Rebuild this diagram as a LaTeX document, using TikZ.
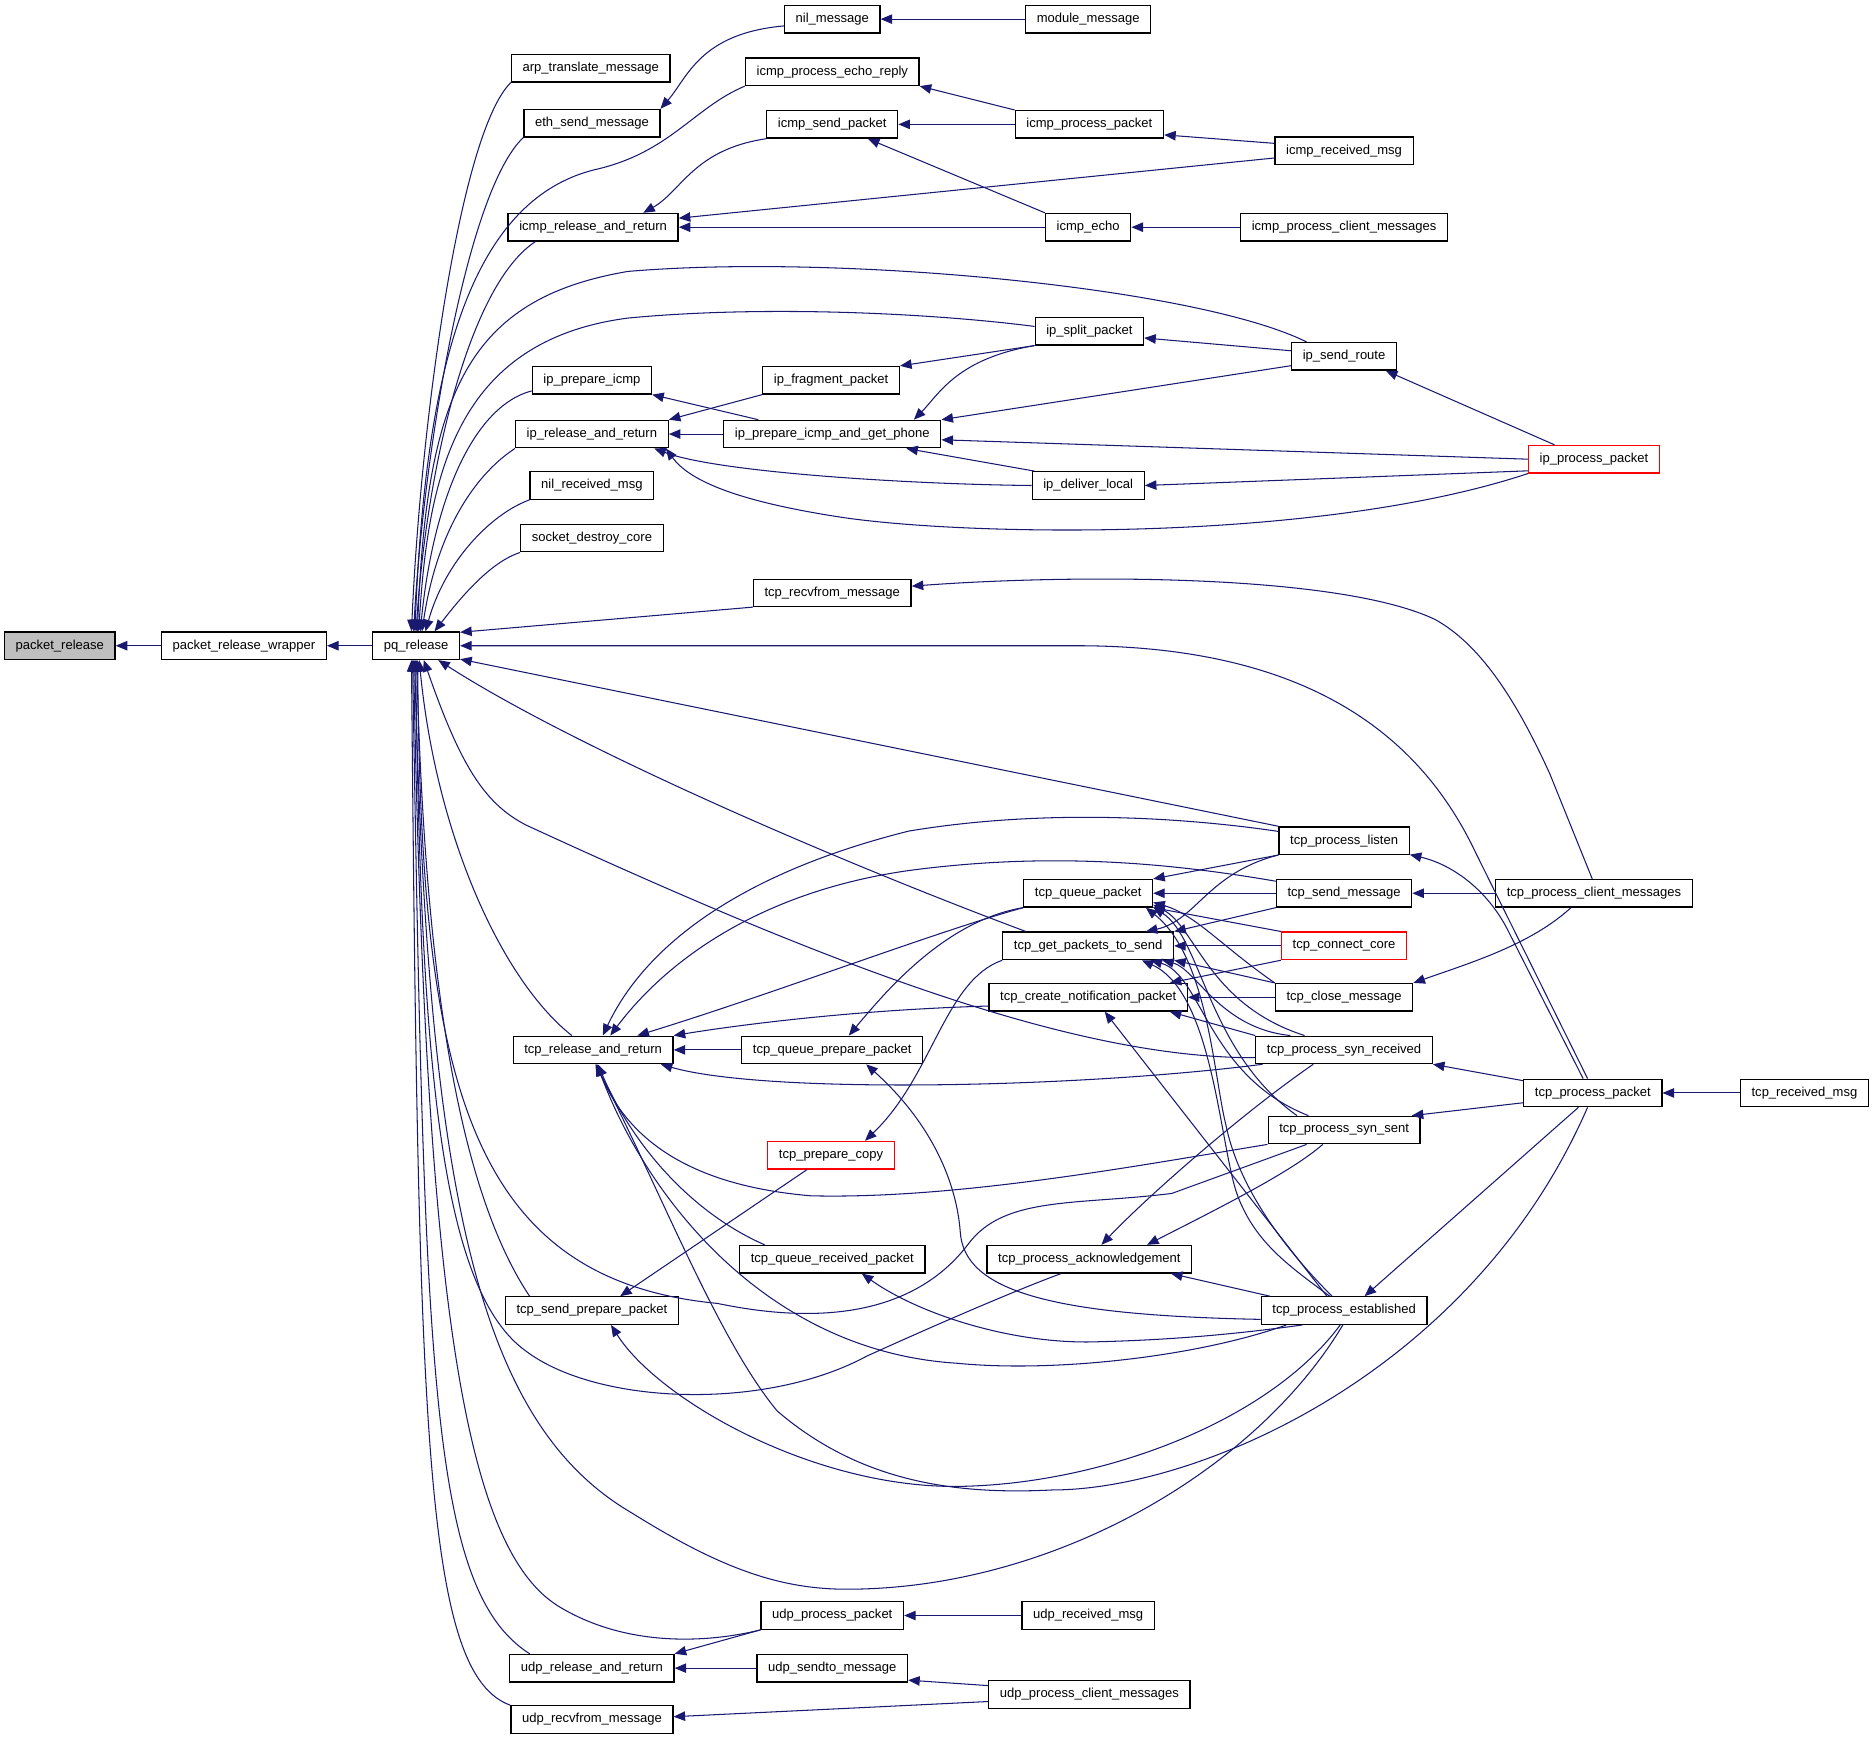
\documentclass[tikz,border=0pt]{standalone}
\usepackage{fontspec}
\setmainfont{Liberation Sans}
\usetikzlibrary{arrows.meta}
\definecolor{callblue}{HTML}{191970}
\definecolor{rootgray}{HTML}{BFBFBF}

\begin{document}
\begin{tikzpicture}[x=0.02cm,y=-0.02cm,
    fn/.style={draw=black,line width=0.6pt,fill=white,minimum height=0.46cm,inner xsep=5.3pt,inner ysep=1pt,font=\fontsize{6.2}{7}\selectfont},
    fnred/.style={fn,draw=red},
    fnroot/.style={fn,fill=rootgray},
    call/.style={draw=callblue,line width=0.5pt,{Triangle[length=5.5pt,width=4.5pt]}-}]
  \useasboundingbox (0,0) rectangle (1568,1456);

  % columns 0-2
  \node[fnroot] (pr) at (50,540) {packet\_release};
  \node[fn] (prw) at (204,540) {packet\_release\_wrapper};
  \node[fn] (pq) at (348,540) {pq\_release};

  % column 3
  \node[fn] (arp) at (494,57) {arp\_translate\_message};
  \node[fn] (eth) at (495,103) {eth\_send\_message};
  \node[fn] (icrr) at (496,190) {icmp\_release\_and\_return};
  \node[fn] (ippi) at (495,318) {ip\_prepare\_icmp};
  \node[fn] (iprr) at (495,363) {ip\_release\_and\_return};
  \node[fn] (nilr) at (495,406) {nil\_received\_msg};
  \node[fn] (sdc) at (495,450) {socket\_destroy\_core};
  \node[fn] (tcrr) at (496,878) {tcp\_release\_and\_return};
  \node[fn] (tcsp) at (495,1096) {tcp\_send\_prepare\_packet};
  \node[fn] (udrr) at (495,1395) {udp\_release\_and\_return};
  \node[fn] (udrf) at (495,1438) {udp\_recvfrom\_message};

  % column 4
  \node[fn] (nilm) at (696,16) {nil\_message};
  \node[fn] (icer) at (696,60) {icmp\_process\_echo\_reply};
  \node[fn] (icsp) at (696,104) {icmp\_send\_packet};
  \node[fn] (ipfp) at (695,318) {ip\_fragment\_packet};
  \node[fn] (ippg) at (696,363) {ip\_prepare\_icmp\_and\_get\_phone};
  \node[fn] (tcrf) at (696,496) {tcp\_recvfrom\_message};
  \node[fn] (tcqpp) at (696,878) {tcp\_queue\_prepare\_packet};
  \node[fnred] (tcpc) at (695,966) {tcp\_prepare\_copy};
  \node[fn] (tcqr) at (696,1053) {tcp\_queue\_received\_packet};
  \node[fn] (udpp) at (696,1351) {udp\_process\_packet};
  \node[fn] (udst) at (696,1395) {udp\_sendto\_message};

  % column 5
  \node[fn] (modm) at (910,16) {module\_message};
  \node[fn] (icpp) at (911,104) {icmp\_process\_packet};
  \node[fn] (icec) at (910,190) {icmp\_echo};
  \node[fn] (ipsp) at (911,277) {ip\_split\_packet};
  \node[fn] (ipdl) at (910,406) {ip\_deliver\_local};
  \node[fn] (tcqp) at (910,747) {tcp\_queue\_packet};
  \node[fn] (tcgp) at (910,791) {tcp\_get\_packets\_to\_send};
  \node[fn] (tcnp) at (910,834) {tcp\_create\_notification\_packet};
  \node[fn] (tcak) at (911,1053) {tcp\_process\_acknowledgement};
  \node[fn] (udrm) at (910,1351) {udp\_received\_msg};
  \node[fn] (udcm) at (911,1417) {udp\_process\_client\_messages};

  % column 6
  \node[fn] (icrm) at (1124,126) {icmp\_received\_msg};
  \node[fn] (iccm) at (1124,190) {icmp\_process\_client\_messages};
  \node[fn] (ipsr) at (1124,298) {ip\_send\_route};
  \node[fn] (tcpl) at (1124,703) {tcp\_process\_listen};
  \node[fn] (tcsm) at (1124,747) {tcp\_send\_message};
  \node[fnred] (tccc) at (1124,791) {tcp\_connect\_core};
  \node[fn] (tccl) at (1124,834) {tcp\_close\_message};
  \node[fn] (tcsr) at (1124,878) {tcp\_process\_syn\_received};
  \node[fn] (tcss) at (1124,945) {tcp\_process\_syn\_sent};
  \node[fn] (tces) at (1124,1096) {tcp\_process\_established};

  % columns 7-8
  \node[fnred] (ippp) at (1333,384) {ip\_process\_packet};
  \node[fn] (tccm) at (1333,747) {tcp\_process\_client\_messages};
  \node[fn] (tcpp) at (1332,914) {tcp\_process\_packet};
  \node[fn] (tcrm) at (1509,914) {tcp\_received\_msg};

  \draw[call] (pr.east) -- (prw.west);
  \draw[call] (prw.east) -- (pq.west);

  % callers of pq_release
  \draw[call] (pq.108) .. controls (352,350) and (385,110) .. (arp.south west);
  \draw[call] (pq.100) .. controls (354,380) and (390,160) .. (eth.south west);
  \draw[call] (pq.95) .. controls (355,330) and (385,170) .. (497,142) .. controls (560,128) and (580,90) .. (icer.south west);
  \draw[call] (pq.90) .. controls (356,400) and (390,240) .. (icrr.194);
  \draw[call] (pq.85) .. controls (357,330) and (390,250) .. (525,227) .. controls (700,212) and (1000,240) .. (ipsr.159);
  \draw[call] (pq.80) .. controls (358,400) and (380,285) .. (525,266) .. controls (640,255) and (780,262) .. (ipsp.175);
  \draw[call] (pq.74) .. controls (362,420) and (395,340) .. (ippi.190);
  \draw[call] (pq.68) .. controls (366,440) and (400,395) .. (iprr.south west);
  \draw[call] (pq.57) .. controls (372,470) and (410,430) .. (nilr.south west);
  \draw[call] (pq.38) .. controls (385,500) and (410,470) .. (sdc.south west);
  \draw[call] (pq.17) -- (tcrf.190);
  \draw[call] (pq.east) -- (900,540) .. controls (1100,540) and (1190,620) .. (1234,713) -- (tcpp.110);
  \draw[call] (pq.-17) -- (tcpl.north west);
  \draw[call] (pq.-33) .. controls (480,625) and (700,720) .. (tcgp.167);
  \draw[call] (pq.-62) .. controls (385,640) and (405,672) .. (440,690) .. controls (700,810) and (900,885) .. (tcsr.185);
  \draw[call] (pq.-78) .. controls (365,700) and (420,820) .. (tcrr.146);
  \draw[call] (pq.-84) .. controls (352,900) and (390,1070) .. (600,1090) .. controls (720,1115) and (780,1080) .. (810,1040) .. controls (840,1000) and (900,1008) .. (980,998) -- (tcss.201);
  \draw[call] (pq.-88) .. controls (355,800) and (380,990) .. (tcsp.167);
  \draw[call] (pq.-92) .. controls (352,900) and (370,1080) .. (440,1130) .. controls (500,1175) and (640,1180) .. (725,1134) .. controls (800,1100) and (860,1075) .. (tcak.207);
  \draw[call] (pq.-96) .. controls (358,1000) and (400,1190) .. (528,1265) .. controls (600,1310) and (650,1329) .. (708,1329) .. controls (880,1329) and (1050,1230) .. (tces.-95);
  \draw[call] (pq.-100) .. controls (356,1100) and (390,1300) .. (470,1345) .. controls (530,1380) and (600,1372) .. (udpp.south west);
  \draw[call] (pq.-104) .. controls (355,1150) and (360,1330) .. (udrr.167);
  \draw[call] (pq.-108) .. controls (350,1200) and (355,1400) .. (udrf.north west);

  % icmp
  \draw[call] (eth.north east) .. controls (575,65) and (585,28) .. (nilm.188);
  \draw[call] (nilm.east) -- (modm.west);
  \draw[call] (icer.south east) -- (icpp.north west);
  \draw[call] (icsp.east) -- (icpp.west);
  \draw[call] (icsp.-22) -- (icec.north west);
  \draw[call] (icpp.-8) -- (icrm.174);
  \draw[call] (icrr.16) .. controls (570,160) and (580,125) .. (icsp.south west);
  \draw[call] (icrr.6) -- (icrm.186);
  \draw[call] (icrr.east) -- (icec.west);
  \draw[call] (icec.east) -- (iccm.west);

  % ip
  \draw[call] (ipsp.-7) -- (ipsr.174);
  \draw[call] (ipsr.-19) -- (ippp.160);
  \draw[call] (ippi.south east) -- (ippg.169);
  \draw[call] (ipfp.north east) -- (ipsp.south west);
  \draw[call] (iprr.north east) -- (ipfp.south west);
  \draw[call] (iprr.east) -- (ippg.west);
  \draw[call] (iprr.-13) .. controls (600,395) and (760,405) .. (ipdl.west);
  \draw[call] (iprr.-11) .. controls (575,400) and (610,418) .. (700,432) .. controls (800,448) and (1100,455) .. (ippp.south west);
  \draw[call] (ippg.10) .. controls (785,330) and (800,300) .. (ipsp.south west);
  \draw[call] (ippg.north east) -- (ipsr.190);
  \draw[call] (ippg.-3) -- (ippp.west);
  \draw[call] (ippg.-11) -- (ipdl.165);
  \draw[call] (ipdl.east) -- (ippp.190);

  % tcp
  \draw[call] (tcrf.5) .. controls (900,480) and (1120,480) .. (1200,518) .. controls (1240,540) and (1270,590) .. (1296,647) -- (tccm.97);
  \draw[call] (tcpl.-12) .. controls (1215,723) and (1245,745) .. (1262,780) -- (tcpp.124);
  \draw[call] (tcsm.east) -- (tccm.west);
  \draw[call] (tccl.north east) .. controls (1230,805) and (1280,790) .. (tccm.212);
  \draw[call] (tcsr.south east) -- (tcpp.170);
  \draw[call] (tcss.12) -- (tcpp.188);
  \draw[call] (tces.35) -- (tcpp.-135);
  \draw[call] (tcpp.east) -- (tcrm.west);

  \draw[call] (tcqp.north east) -- (tcpl.south west);
  \draw[call] (tcqp.east) -- (tcsm.west);
  \draw[call] (tcqp.south east) -- (tccc.north west);
  \draw[call] (tcqp.-8) .. controls (1000,765) and (1020,790) .. (tccl.north west);
  \draw[call] (tcqp.-10) .. controls (1000,775) and (1010,840) .. (tcsr.160);
  \draw[call] (tcqp.-12) .. controls (1005,785) and (1010,880) .. (tcss.163);
  \draw[call] (tcqp.-14) .. controls (1010,800) and (1015,900) .. (1025,940) .. controls (1035,990) and (1070,1040) .. (tces.130);
  \draw[call] (tcgp.14) .. controls (1000,770) and (1010,730) .. (tcpl.south west);
  \draw[call] (tcgp.north east) -- (tcsm.south west);
  \draw[call] (tcgp.east) -- (tccc.west);
  \draw[call] (tcgp.south east) -- (tccl.north west);
  \draw[call] (tcgp.-11) .. controls (1000,810) and (1020,860) .. (tcsr.165);
  \draw[call] (tcgp.-13) .. controls (1005,815) and (1010,900) .. (tcss.158);
  \draw[call] (tcgp.-15) .. controls (1015,830) and (1020,960) .. (1035,1000) .. controls (1050,1040) and (1080,1060) .. (tces.135);
  \draw[call] (tcnp.10) -- (tccc.south west);
  \draw[call] (tcnp.east) -- (tccl.west);
  \draw[call] (tcnp.-10) -- (tcsr.north west);
  \draw[call] (tcnp.-41) -- (tces.140);

  \draw[call] (tcrr.56) .. controls (540,790) and (620,730) .. (760,695) .. controls (880,675) and (1000,685) .. (tcpl.172);
  \draw[call] (tcrr.40) .. controls (560,800) and (640,745) .. (760,728) .. controls (880,712) and (980,722) .. (tcsm.170);
  \draw[call] (tcrr.18) .. controls (650,830) and (780,780) .. (tcqp.south west);
  \draw[call] (tcrr.north east) .. controls (600,860) and (700,845) .. (tcnp.185);
  \draw[call] (tcrr.east) -- (tcqpp.west);
  \draw[call] (tcrr.-12) .. controls (640,915) and (900,910) .. (tcsr.190);
  \draw[call] (tcrr.-78) .. controls (520,940) and (560,990) .. (678,1000) .. controls (800,1003) and (950,975) .. (tcss.south west);
  \draw[call] (tcrr.-72) .. controls (530,960) and (580,1015) .. (tcqr.168);
  \draw[call] (tcrr.-75) .. controls (540,1000) and (640,1130) .. (800,1140) .. controls (880,1148) and (1000,1135) .. (tces.194);
  \draw[call] (tcrr.-81) .. controls (550,990) and (600,1120) .. (650,1180) .. controls (720,1240) and (800,1250) .. (880,1246) .. controls (1000,1246) and (1230,1150) .. (tcpp.-110);

  \draw[call] (tcqpp.41) .. controls (740,830) and (790,770) .. (tcqp.south west);
  \draw[call] (tcqpp.-23) .. controls (780,940) and (800,990) .. (803,1030) .. controls (806,1080) and (880,1100) .. (tces.186);
  \draw[call] (tcqr.-26) .. controls (770,1100) and (850,1125) .. (920,1122) .. controls (1000,1120) and (1060,1112) .. (tces.199);
  \draw[call] (tcsp.27) -- (tcpc.-149);
  \draw[call] (tcsp.-37) .. controls (550,1170) and (680,1245) .. (803,1243) .. controls (920,1241) and (1060,1190) .. (tces.-105);
  \draw[call] (tcpc.23) .. controls (780,900) and (790,820) .. (tcgp.south west);
  \draw[call] (tcak.50) .. controls (960,1000) and (1040,930) .. (tcsr.-155);
  \draw[call] (tcak.14) .. controls (1020,1010) and (1080,980) .. (tcss.-146);
  \draw[call] (tcak.-10) -- (tces.169);

  % udp
  \draw[call] (udpp.east) -- (udrm.west);
  \draw[call] (udrr.north east) -- (udpp.south west);
  \draw[call] (udrr.east) -- (udst.west);
  \draw[call] (udst.-9) -- (udcm.175);
  \draw[call] (udrf.2) -- (udcm.184);
\end{tikzpicture}
\end{document}
